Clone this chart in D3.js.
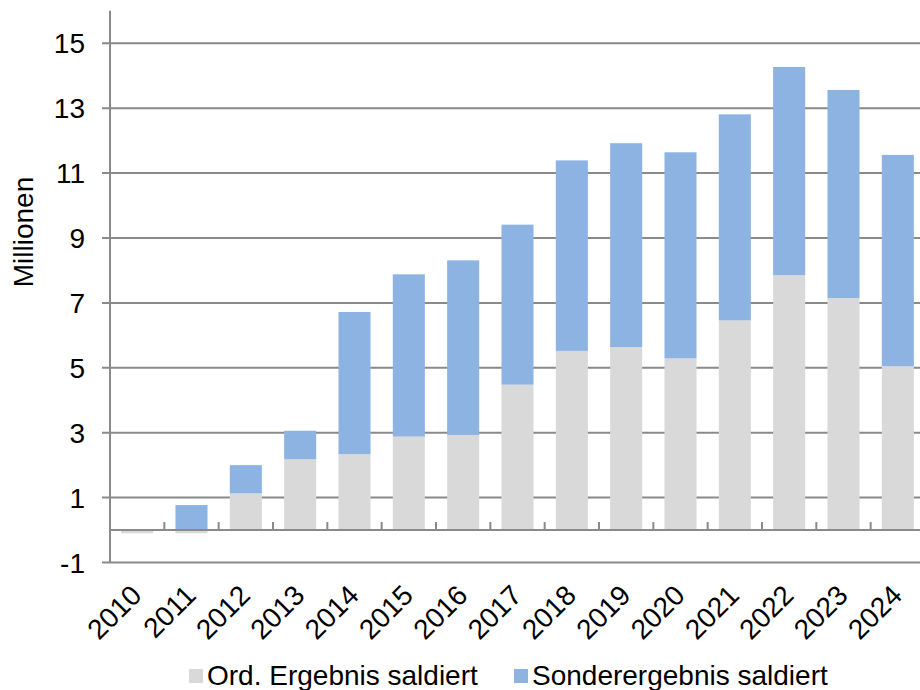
<!DOCTYPE html>
<html>
<head>
<meta charset="utf-8">
<script src="https://cdn.jsdelivr.net/npm/d3@7"></script>
<style>
  body { margin: 0; background: #fff; }
  text { font-family: "Liberation Sans", Arial, sans-serif; fill: #000; }
</style>
</head>
<body>
<div id="chart"></div>
<script>
// data
const years = ["2010","2011","2012","2013","2014","2015","2016","2017","2018","2019","2020","2021","2022","2023","2024"]
const ordErgebnis = [-0.1, -0.1, 1.13, 2.18, 2.34, 2.88, 2.93, 4.48, 5.52, 5.64, 5.29, 6.46, 7.85, 7.15, 5.05]
const sonderErgebnis = [0, 0.77, 0.87, 0.88, 4.38, 5.00, 5.38, 4.93, 5.87, 6.28, 6.35, 6.35, 6.42, 6.41, 6.51]
const yTicks = [-1, 1, 3, 5, 7, 9, 11, 13, 15]
const seriesNames = ["Ord. Ergebnis saldiert", "Sonderergebnis saldiert"]
const colors = ["#d9d9d9", "#8db3e2"]

const width = 920, height = 690
const gridColor = "#8a8a8a"

const svg = d3.select("#chart").append("svg")
    .attr("width", width)
    .attr("height", height)

// scales
const x = d3.scaleBand()
    .domain(years)
    .range([110, 925])
    .paddingInner(0.41)
    .paddingOuter(0.205)

const y = d3.scaleLinear()
    .domain([-1, 16])
    .range([562.5, 10.8])

// stack, negatives go below zero
const table = years.map((yr, i) => ({year: yr, ord: ordErgebnis[i], sonder: sonderErgebnis[i]}))
const stack = d3.stack().keys(["ord", "sonder"]).offset(d3.stackOffsetDiverging)
const layers = stack(table)

// gridlines
svg.append("g")
  .selectAll("line")
  .data(yTicks)
  .join("line")
    .attr("x1", 102)
    .attr("x2", width)
    .attr("y1", d => y(d))
    .attr("y2", d => y(d))
    .attr("stroke", gridColor)
    .attr("stroke-width", 2)

// y tick labels
svg.append("g")
  .selectAll("text")
  .data(yTicks)
  .join("text")
    .attr("x", 85)
    .attr("y", d => y(d))
    .attr("dy", "0.36em")
    .attr("text-anchor", "end")
    .style("font-size", "28px")
    .text(d => d)

// bars
svg.append("g")
  .selectAll("g")
  .data(layers)
  .join("g")
    .attr("fill", (d, i) => colors[i])
  .selectAll("rect")
  .data(d => d)
  .join("rect")
    .attr("x", d => x(d.data.year))
    .attr("width", x.bandwidth())
    .attr("y", d => y(Math.max(d[0], d[1])))
    .attr("height", d => Math.abs(y(d[0]) - y(d[1])))

// y axis line
svg.append("line")
    .attr("x1", 110).attr("x2", 110)
    .attr("y1", y(16)).attr("y2", y(-1))
    .attr("stroke", gridColor)
    .attr("stroke-width", 2)

// category axis at zero with inside ticks
svg.append("line")
    .attr("x1", 110).attr("x2", width)
    .attr("y1", y(0)).attr("y2", y(0))
    .attr("stroke", gridColor)
    .attr("stroke-width", 2)

svg.append("g")
  .selectAll("line")
  .data(years)
  .join("line")
    .attr("x1", d => x(d) + x.bandwidth() / 2 + x.step() / 2)
    .attr("x2", d => x(d) + x.bandwidth() / 2 + x.step() / 2)
    .attr("y1", y(0))
    .attr("y2", y(0) - 8)
    .attr("stroke", gridColor)
    .attr("stroke-width", 2)

// x labels, rotated
svg.append("g")
  .selectAll("text")
  .data(years)
  .join("text")
    .attr("transform", d => "translate(" + (x(d) + x.bandwidth() / 2 + 6) + ",597) rotate(-45)")
    .attr("text-anchor", "end")
    .style("font-size", "28px")
    .text(d => d)

// y axis title
svg.append("text")
    .attr("transform", "translate(33,232) rotate(-90)")
    .attr("text-anchor", "middle")
    .style("font-size", "28px")
    .text("Millionen")

// legend
const legendX = [189, 514]
const legend = svg.append("g")
  .selectAll("g")
  .data(seriesNames)
  .join("g")
    .attr("transform", (d, i) => "translate(" + legendX[i] + ",0)")

legend.append("rect")
    .attr("x", 0)
    .attr("y", 669)
    .attr("width", 14)
    .attr("height", 14)
    .attr("fill", (d, i) => colors[i])

legend.append("text")
    .attr("x", 18)
    .attr("y", 685)
    .style("font-size", "28px")
    .text(d => d)
</script>
</body>
</html>
